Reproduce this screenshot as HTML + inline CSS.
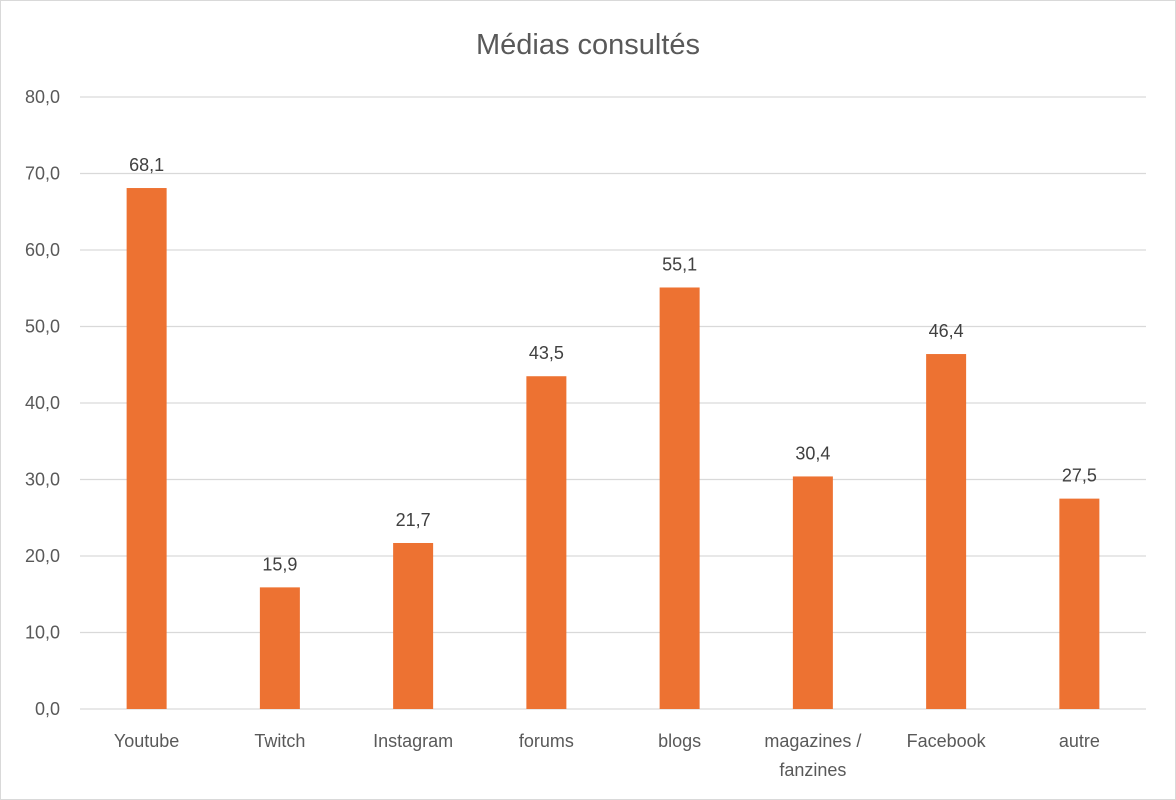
<!DOCTYPE html>
<html><head><meta charset="utf-8"><style>
body{margin:0;background:#fff;}
svg{display:block;font-family:"Liberation Sans",sans-serif;}
</style></head><body>
<svg width="1176" height="800">
<rect x="0.5" y="0.5" width="1175" height="799" fill="#fff" stroke="#d9d9d9"/>
<text x="588" y="54" text-anchor="middle" font-size="29" fill="#595959">Médias consultés</text>
<g id="grid"></g><g id="bars"></g><g id="labels"></g>
</svg>
<script>
const categories=["Youtube","Twitch","Instagram","forums","blogs","magazines /|fanzines","Facebook","autre"];
const values=[68.1,15.9,21.7,43.5,55.1,30.4,46.4,27.5];
const ticks=[0,10,20,30,40,50,60,70,80];
const NS="http://www.w3.org/2000/svg";
const x0=80,x1=1146,yBase=709,yTop=97,maxV=80;
const y=v=>yBase-(v/maxV)*(yBase-yTop);
const band=(x1-x0)/categories.length;
const xc=i=>x0+band*(i+0.5);
function mk(t,a,p){const e=document.createElementNS(NS,t);for(const k in a)e.setAttribute(k,a[k]);p.appendChild(e);return e;}
const g=document.getElementById('grid'),b=document.getElementById('bars'),l=document.getElementById('labels');
ticks.forEach(t=>{
 const ln=mk('line',{x1:x0,x2:x1,y1:y(t),y2:y(t),stroke:'#d9d9d9','stroke-width':1.3},g);
 
 
 const tx=mk('text',{x:60,y:y(t)+6,'text-anchor':'end','font-size':18,fill:'#595959'},g);
 tx.textContent=t.toFixed(1).replace('.',',');
 
 
});
values.forEach((v,i)=>{
 const r=mk('rect',{x:xc(i)-20,y:y(v),width:40,height:yBase-y(v),fill:'#ed7232'},b);
 
 
 const vt=mk('text',{x:xc(i),y:y(v)-17,'text-anchor':'middle','font-size':18,fill:'#404040'},l);
 vt.textContent=v.toFixed(1).replace('.',',');
 
 
 categories[i].split('|').forEach((s,k)=>{
  const ct=mk('text',{x:xc(i),y:747+k*29,'text-anchor':'middle','font-size':18,fill:'#595959'},l);
  ct.textContent=s;
  
  
 });
});
</script>
</body></html>
